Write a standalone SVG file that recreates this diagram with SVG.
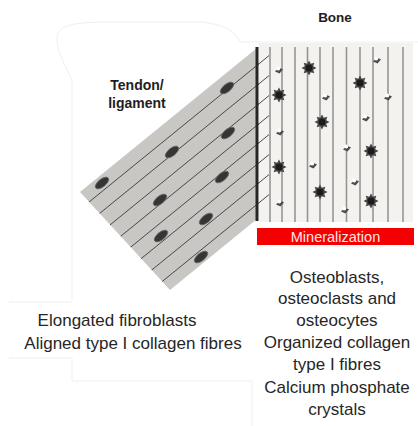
<svg xmlns="http://www.w3.org/2000/svg" width="418" height="426" viewBox="0 0 418 426">
  <style>
    .faint { fill: none; stroke: #efefef; stroke-width: 1; }
    .fibre { stroke: #484848; stroke-width: 1; }
    .bone-line { stroke: #959595; stroke-width: 1.6; }
    .cell { fill: #363636; stroke: #666666; stroke-width: 0.9; }
    .label-bold { font-family: "Liberation Sans", Arial, sans-serif; font-weight: bold; fill: #1e1e1e; text-anchor: middle; }
    .label { font-family: "Liberation Sans", Arial, sans-serif; font-size: 17px; fill: #262626; text-anchor: middle; }
  </style>
  <defs>
    <clipPath id="fibreClip">
      <polygon points="80,192 269,38 269,209 170,290"/>
    </clipPath>
    <filter id="soft" x="-50%" y="-50%" width="200%" height="200%">
      <feGaussianBlur stdDeviation="0.6"/>
    </filter>
    <!-- bone cell: eight-pointed star with a dark nucleus -->
    <g id="star">
      <polygon points="7.5,0 4.2,1.75 5.3,5.3 1.75,4.2 0,7.5 -1.75,4.2 -5.3,5.3 -4.2,1.75 -7.5,0 -4.2,-1.75 -5.3,-5.3 -1.75,-4.2 0,-7.5 1.75,-4.2 5.3,-5.3 4.2,-1.75" fill="#454545"/>
      <circle r="3.4" fill="#1a1a1a"/>
    </g>
    <!-- calcium phosphate crystal -->
    <g id="crystal">
      <polygon points="-4,1.5 0,-2.5 4,-0.5 0.5,3.5" fill="#4e4e4e"/>
      <circle cx="-0.8" cy="-1.6" r="2" fill="#ffffff"/>
    </g>
  </defs>

  <rect width="418" height="426" fill="#ffffff"/>

  <!-- faint panel edges -->
  <g id="panel-edges">
    <path class="faint" d="M72,300 L72,80 C66,66 56,52 57,36 C58,24 80,22 110,22 L200,22 C225,24 236,32 240,42 L418,42"/>
    <path class="faint" d="M9,302 L72,302"/>
    <path class="faint" d="M9,358 L72,358 L72,381 L252,381 L252,426"/>
  </g>

  <!-- tendon / ligament -->
  <g id="tendon">
    <polygon points="80,192 257,48 257,219 170,290" fill="#c9c7c4"/>
    <g clip-path="url(#fibreClip)">
      <line class="fibre" x1="20" y1="238.2" x2="269" y2="35.6"/>
      <line class="fibre" x1="20" y1="258.2" x2="269" y2="55.6"/>
      <line class="fibre" x1="20" y1="278.2" x2="269" y2="75.6"/>
      <line class="fibre" x1="20" y1="298.2" x2="269" y2="95.6"/>
      <line class="fibre" x1="20" y1="318.2" x2="269" y2="115.6"/>
      <line class="fibre" x1="20" y1="337.2" x2="269" y2="134.6"/>
      <line class="fibre" x1="20" y1="357.2" x2="269" y2="154.6"/>
      <line class="fibre" x1="20" y1="377.2" x2="269" y2="174.6"/>
      <line class="fibre" x1="20" y1="397.2" x2="269" y2="194.6"/>
    </g>
    <g id="fibroblasts" filter="url(#soft)">
      <ellipse class="cell" cx="0" cy="0" rx="8" ry="3.8" transform="translate(227,88) rotate(-39)"/>
      <ellipse class="cell" cx="0" cy="0" rx="8" ry="3.8" transform="translate(228,133) rotate(-39)"/>
      <ellipse class="cell" cx="0" cy="0" rx="8" ry="3.8" transform="translate(172,152) rotate(-39)"/>
      <ellipse class="cell" cx="0" cy="0" rx="8" ry="3.8" transform="translate(222,177) rotate(-39)"/>
      <ellipse class="cell" cx="0" cy="0" rx="8" ry="3.8" transform="translate(102,183) rotate(-39)"/>
      <ellipse class="cell" cx="0" cy="0" rx="8" ry="3.8" transform="translate(160,200) rotate(-39)"/>
      <ellipse class="cell" cx="0" cy="0" rx="8" ry="3.8" transform="translate(206,219) rotate(-39)"/>
      <ellipse class="cell" cx="0" cy="0" rx="8" ry="3.8" transform="translate(161,236) rotate(-39)"/>
      <ellipse class="cell" cx="0" cy="0" rx="8" ry="3.8" transform="translate(201,257) rotate(-39)"/>
    </g>
  </g>

  <!-- bone -->
  <g id="bone">
    <rect x="259" y="43" width="154" height="179" fill="#f4f2ef"/>
    <g clip-path="url(#fibreClip)">
      <line class="fibre" x1="257" y1="45.4" x2="269" y2="35.6"/>
      <line class="fibre" x1="257" y1="65.4" x2="269" y2="55.6"/>
      <line class="fibre" x1="257" y1="85.4" x2="269" y2="75.6"/>
      <line class="fibre" x1="257" y1="105.4" x2="269" y2="95.6"/>
      <line class="fibre" x1="257" y1="125.4" x2="269" y2="115.6"/>
      <line class="fibre" x1="257" y1="144.4" x2="269" y2="134.6"/>
      <line class="fibre" x1="257" y1="164.4" x2="269" y2="154.6"/>
      <line class="fibre" x1="257" y1="184.4" x2="269" y2="174.6"/>
      <line class="fibre" x1="257" y1="204.4" x2="269" y2="194.6"/>
    </g>
    <g id="collagen-lines">
      <line class="bone-line" x1="270" y1="47" x2="270" y2="222"/>
      <line class="bone-line" x1="282" y1="47" x2="282" y2="222"/>
      <line class="bone-line" x1="295" y1="47" x2="295" y2="222"/>
      <line class="bone-line" x1="307.5" y1="47" x2="307.5" y2="222"/>
      <line class="bone-line" x1="320" y1="47" x2="320" y2="222"/>
      <line class="bone-line" x1="333" y1="47" x2="333" y2="222"/>
      <line class="bone-line" x1="346.5" y1="47" x2="346.5" y2="222"/>
      <line class="bone-line" x1="360" y1="47" x2="360" y2="222"/>
      <line class="bone-line" x1="373" y1="47" x2="373" y2="222"/>
      <line class="bone-line" x1="388" y1="47" x2="388" y2="222"/>
      <line class="bone-line" x1="403" y1="47" x2="403" y2="222"/>
    </g>
    <line x1="257" y1="47" x2="257" y2="221" stroke="#262626" stroke-width="3"/>
    <g id="bone-cells" filter="url(#soft)">
      <use href="#star" x="309" y="68"/>
      <use href="#star" x="360" y="83"/>
      <use href="#star" x="279" y="95"/>
      <use href="#star" x="322" y="122"/>
      <use href="#star" x="371" y="151"/>
      <use href="#star" x="279" y="167"/>
      <use href="#star" x="320" y="192"/>
      <use href="#star" x="371" y="201"/>
    </g>
    <g id="crystals" filter="url(#soft)">
      <use href="#crystal" x="377" y="60"/>
      <use href="#crystal" x="279" y="70"/>
      <use href="#crystal" x="326" y="97"/>
      <use href="#crystal" x="388" y="97"/>
      <use href="#crystal" x="366" y="118"/>
      <use href="#crystal" x="280" y="132"/>
      <use href="#crystal" x="347" y="148"/>
      <use href="#crystal" x="313" y="165"/>
      <use href="#crystal" x="355" y="182"/>
      <use href="#crystal" x="280" y="203"/>
      <use href="#crystal" x="345" y="210"/>
    </g>
  </g>

  <!-- mineralization bar -->
  <g id="mineralization">
    <rect x="257" y="228" width="157" height="17" fill="#f40000"/>
    <text x="335.5" y="241.5" font-family="'Liberation Sans', Arial, sans-serif" font-size="14.5" fill="#fde6e6" text-anchor="middle">Mineralization</text>
  </g>

  <!-- titles -->
  <g id="titles">
    <text class="label-bold" x="335" y="22" font-size="13.5">Bone</text>
    <text class="label-bold" x="137" y="90" font-size="14">Tendon/</text>
    <text class="label-bold" x="137" y="108" font-size="14">ligament</text>
  </g>

  <!-- descriptions -->
  <g id="tendon-text">
    <text class="label" x="117" y="326">Elongated fibroblasts</text>
    <text class="label" x="133" y="349">Aligned type I collagen fibres</text>
  </g>
  <g id="bone-text">
    <text class="label" x="337" y="283">Osteoblasts,</text>
    <text class="label" x="337" y="304">osteoclasts and</text>
    <text class="label" x="337" y="326">osteocytes</text>
    <text class="label" x="337" y="348">Organized collagen</text>
    <text class="label" x="337" y="370">type I fibres</text>
    <text class="label" x="337" y="393">Calcium phosphate</text>
    <text class="label" x="337" y="415">crystals</text>
  </g>
</svg>
